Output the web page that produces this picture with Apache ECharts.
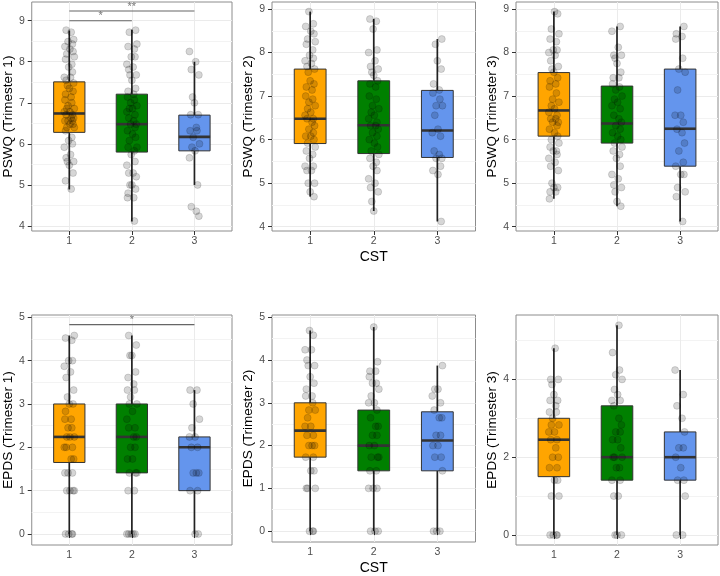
<!DOCTYPE html>
<html><head><meta charset="utf-8">
<script src="https://cdn.jsdelivr.net/npm/echarts@6/dist/echarts.min.js"></script>
<style>html,body{margin:0;padding:0;background:#fff}#c{width:720px;height:576px}</style>
</head><body><div id="c"></div>
<script>
// ---------------- DATA ----------------
const categories = ['1', '2', '3'];
const xTitle = 'CST';
const yTitles = ['PSWQ (Trimester 1)', 'PSWQ (Trimester 2)', 'PSWQ (Trimester 3)',
                 'EPDS (Trimester 1)', 'EPDS (Trimester 2)', 'EPDS (Trimester 3)'];
const yTicksPSWQ = [4, 5, 6, 7, 8, 9];
const yMinorPSWQ = [4.5, 5.5, 6.5, 7.5, 8.5];
const yTicksEPDS = [0, 1, 2, 3, 4, 5];
const yMinorEPDS = [0.5, 1.5, 2.5, 3.5, 4.5];
const yTicksEPDS3 = [0, 2, 4];
const yMinorEPDS3 = [1, 3, 5];

// box stats per group: [lower whisker, Q1, median, Q3, upper whisker]
const boxPSWQ1 = [[4.89, 6.28, 6.74, 7.51, 8.76], [4.11, 5.80, 6.48, 7.21, 8.78], [5.00, 5.83, 6.17, 6.70, 8.00]];
const boxPSWQ2 = [[4.69, 5.91, 6.48, 7.62, 8.94], [4.36, 5.68, 6.33, 7.35, 8.77], [4.12, 5.59, 6.21, 7.13, 8.31]];
const boxPSWQ3 = [[4.64, 6.08, 6.67, 7.54, 8.94], [4.47, 5.92, 6.37, 7.23, 8.60], [4.12, 5.39, 6.25, 7.62, 8.60]];
const boxEPDS1 = [[0, 1.65, 2.24, 3.00, 4.58], [0, 1.41, 2.24, 3.00, 4.58], [0, 1.00, 2.00, 2.24, 3.32]];
const boxEPDS2 = [[0, 1.73, 2.35, 3.00, 4.69], [0, 1.41, 2.00, 2.83, 4.77], [0, 1.41, 2.12, 2.79, 3.87]];
const boxEPDS3 = [[0, 1.50, 2.45, 3.00, 4.80], [0, 1.41, 2.00, 3.32, 5.39], [0, 1.41, 2.00, 2.65, 4.24]];

// individual observations per group
const ptsPSWQ1_1 = [8.77,8.72,8.54,8.49,8.43,8.37,8.31,8.25,8.19,8.12,8.06,7.94,7.87,7.75,7.62,7.62,7.55,7.48,7.42,7.35,7.28,7.21,7.14,7.07,7.0,6.93,6.86,6.86,6.78,6.78,6.71,6.71,6.63,6.63,6.56,6.56,6.56,6.48,6.48,6.40,6.40,6.32,6.16,6.08,6.0,5.92,5.74,5.66,5.57,5.57,5.48,5.29,5.10,4.90];
const ptsPSWQ1_2 = [8.77,8.72,8.43,8.37,8.31,8.12,8.12,7.94,7.87,7.81,7.68,7.68,7.55,7.35,7.28,7.21,7.14,7.07,7.0,6.93,6.86,6.86,6.78,6.71,6.63,6.56,6.48,6.48,6.40,6.32,6.24,6.16,6.08,5.92,5.92,5.83,5.74,5.57,5.48,5.29,5.29,5.20,5.0,5.0,4.90,4.80,4.69,4.69,4.12];
const ptsPSWQ1_3 = [8.25,8.0,7.81,7.68,7.14,7.0,6.71,6.71,6.40,6.32,6.32,6.16,6.0,5.92,5.83,5.66,5.0,4.47,4.36,4.24];
const ptsPSWQ2_1 = [8.94,8.66,8.60,8.49,8.43,8.31,8.25,8.19,8.06,7.94,7.87,7.81,7.75,7.68,7.62,7.55,7.35,7.28,7.21,7.14,7.0,6.93,6.86,6.78,6.71,6.63,6.56,6.48,6.48,6.40,6.32,6.24,6.16,6.08,6.08,6.0,5.92,5.83,5.74,5.66,5.57,5.39,5.39,5.29,5.29,5.0,5.0,4.80,4.69];
const ptsPSWQ2_2 = [8.77,8.72,8.54,8.06,8.0,7.81,7.68,7.62,7.55,7.48,7.35,7.28,7.21,7.0,6.93,6.78,6.71,6.63,6.56,6.48,6.40,6.32,6.32,6.24,6.16,6.08,6.0,5.92,5.83,5.74,5.66,5.57,5.48,5.39,5.29,5.10,5.0,4.90,4.80,4.58,4.36];
const ptsPSWQ2_3 = [8.31,8.19,7.81,7.62,7.28,7.14,7.07,6.93,6.78,6.78,6.56,6.24,6.16,6.08,5.74,5.66,5.57,5.57,5.39,5.29,5.20,4.12];
const ptsPSWQ3_1 = [8.94,8.89,8.54,8.43,8.31,8.25,8.06,8.06,8.0,7.94,7.81,7.68,7.62,7.55,7.42,7.35,7.28,7.21,7.07,6.93,6.86,6.78,6.71,6.63,6.56,6.48,6.48,6.40,6.40,6.32,6.24,6.16,6.08,6.0,5.92,5.83,5.74,5.74,5.66,5.57,5.48,5.39,5.29,5.0,4.90,4.90,4.80,4.80,4.64];
const ptsPSWQ3_2 = [8.60,8.49,8.12,7.94,7.94,7.87,7.75,7.55,7.42,7.42,7.28,7.21,7.14,7.0,6.93,6.86,6.78,6.71,6.56,6.48,6.40,6.32,6.24,6.16,6.08,6.0,5.92,5.83,5.74,5.66,5.57,5.39,5.20,5.10,4.96,4.90,4.80,4.58,4.47];
const ptsPSWQ3_3 = [8.60,8.43,8.37,8.31,7.87,7.62,7.55,7.14,6.56,6.56,6.40,6.24,6.16,5.92,5.74,5.48,5.39,5.20,5.20,4.90,4.80,4.69,4.12];
const ptsEPDS1_1 = [4.58,4.52,4.47,4.0,4.0,3.87,3.74,3.61,3.32,3.16,3.0,3.0,2.83,2.65,2.65,2.45,2.45,2.24,2.24,2.24,2.0,2.0,2.0,1.73,1.73,1.41,1.41,1.41,1.0,1.0,1.0,1.0,0,0,0,0];
const ptsEPDS1_2 = [4.58,4.36,4.12,4.12,3.74,3.61,3.46,3.32,3.32,3.16,3.0,3.0,2.83,2.65,2.45,2.45,2.24,2.24,2.0,2.0,1.73,1.73,1.41,1.41,1.41,1.0,1.0,0,0,0,0,0];
const ptsEPDS1_3 = [3.32,3.32,3.0,2.65,2.45,2.24,2.24,2.0,2.0,1.41,1.41,1.41,1.0,1.0,0,0];
const ptsEPDS2_1 = [4.69,4.58,4.24,4.24,4.0,3.87,3.87,3.61,3.46,3.32,3.16,3.16,3.0,2.83,2.83,2.65,2.45,2.45,2.24,2.24,2.0,2.0,2.0,1.73,1.73,1.41,1.41,1.0,1.0,1.0,0,0,0];
const ptsEPDS2_2 = [4.77,3.96,3.74,3.74,3.61,3.46,3.46,3.32,3.16,3.0,3.0,2.83,2.65,2.45,2.45,2.24,2.24,2.0,2.0,1.73,1.73,1.73,1.41,1.41,1.0,1.0,1.0,0,0,0];
const ptsEPDS2_3 = [3.87,3.32,3.32,3.16,3.0,2.83,2.65,2.65,2.24,2.24,2.0,2.0,1.73,1.73,1.41,0,0,0];
const ptsEPDS3_1 = [4.80,4.0,4.0,3.87,3.61,3.46,3.46,3.32,3.16,3.16,3.0,2.83,2.83,2.65,2.65,2.45,2.45,2.24,2.0,2.0,1.73,1.73,1.41,1.41,1.0,1.0,0,0,0,0];
const ptsEPDS3_2 = [5.39,4.69,4.24,4.12,4.0,3.74,3.61,3.46,3.46,3.32,3.0,2.83,2.65,2.65,2.45,2.45,2.24,2.0,2.0,2.0,1.73,1.73,1.41,1.41,1.0,1.0,0,0,0];
const ptsEPDS3_3 = [4.24,3.61,3.32,3.0,2.65,2.24,2.24,2.0,1.73,1.41,1.41,1.0,0,0];

// horizontal jitter offsets (category units), reused cyclically
const jitterOffsets = [-0.05,0.03,0.07,-0.02,0.05,-0.07,0.01,0.06,-0.04,0.08,-0.06,0.04,-0.01,0.05,-0.08,0.02,-0.05,0.07,-0.03,0.0,0.06,-0.06,0.03,-0.07,0.04,-0.02,0.08,-0.04,0.01,-0.08,0.05];

// significance brackets: [from category, to category, y, label]
const sigPSWQ1 = [[1, 3, 9.235, '**'], [1, 2, 9.0, '*']];
const sigEPDS1 = [[1, 3, 4.83, '*']];

// ---------------- LAYOUT / STYLE ----------------
const fills = ['#FFA500', '#008000', '#6495ED'];
const panels = [
  {grid:{left:29, top:2, width:203, height:229}, yMin:3.878, yMax:9.455, ticks:yTicksPSWQ, minor:yMinorPSWQ, box:boxPSWQ1, pts:[ptsPSWQ1_1,ptsPSWQ1_2,ptsPSWQ1_3], sig:sigPSWQ1, xName:false},
  {grid:{left:272, top:2, width:203.5, height:229}, yMin:3.901, yMax:9.161, ticks:yTicksPSWQ, minor:yMinorPSWQ, box:boxPSWQ2, pts:[ptsPSWQ2_1,ptsPSWQ2_2,ptsPSWQ2_3], sig:[], xName:true},
  {grid:{left:516, top:2, width:202, height:229}, yMin:3.901, yMax:9.161, ticks:yTicksPSWQ, minor:yMinorPSWQ, box:boxPSWQ3, pts:[ptsPSWQ3_1,ptsPSWQ3_2,ptsPSWQ3_3], sig:[], xName:false},
  {grid:{left:29, top:315, width:203, height:230}, yMin:-0.254, yMax:5.053, ticks:yTicksEPDS, minor:yMinorEPDS, box:boxEPDS1, pts:[ptsEPDS1_1,ptsEPDS1_2,ptsEPDS1_3], sig:sigEPDS1, xName:false},
  {grid:{left:272, top:315, width:203.5, height:230}, yMin:-0.254, yMax:5.053, ticks:yTicksEPDS, minor:yMinorEPDS, box:boxEPDS2, pts:[ptsEPDS2_1,ptsEPDS2_2,ptsEPDS2_3], sig:[], xName:true},
  {grid:{left:516, top:315, width:202, height:230}, yMin:-0.257, yMax:5.655, ticks:yTicksEPDS3, minor:yMinorEPDS3, box:boxEPDS3, pts:[ptsEPDS3_1,ptsEPDS3_2,ptsEPDS3_3], sig:[], xName:false}
];

const FONT = 'Liberation Sans, Arial, sans-serif';
const catPos = categories.map((c, i) => i + 1);

const grids = [], xAxes = [], yAxes = [], series = [];

function renderBox(params, api) {
  const x = api.value(0), lo = api.value(1), q1 = api.value(2), med = api.value(3), q3 = api.value(4), hi = api.value(5);
  const ci = api.value(6);
  const hw = 0.25;
  const tl = api.coord([x - hw, q3]);
  const br = api.coord([x + hw, q1]);
  const ml = api.coord([x - hw, med]);
  const mr = api.coord([x + hw, med]);
  const pHi = api.coord([x, hi]), pLo = api.coord([x, lo]);
  const pQ3 = api.coord([x, q3]), pQ1 = api.coord([x, q1]);
  return {type: 'group', children: [
    {type: 'line', shape: {x1: pHi[0], y1: pHi[1], x2: pQ3[0], y2: pQ3[1]}, style: {stroke: '#222222', lineWidth: 1.7}},
    {type: 'line', shape: {x1: pQ1[0], y1: pQ1[1], x2: pLo[0], y2: pLo[1]}, style: {stroke: '#222222', lineWidth: 1.7}},
    {type: 'rect', shape: {x: tl[0], y: tl[1], width: br[0] - tl[0], height: br[1] - tl[1]}, style: {fill: fills[ci], stroke: '#333333', lineWidth: 1}},
    {type: 'line', shape: {x1: ml[0], y1: ml[1], x2: mr[0], y2: mr[1]}, style: {stroke: '#333333', lineWidth: 2.6}}
  ]};
}

panels.forEach((p, i) => {
  grids.push(Object.assign({show: true, borderColor: '#8c8c8c', borderWidth: 1, backgroundColor: '#fff'}, p.grid));
  xAxes.push({
    type: 'value', gridIndex: i, min: 0.4, max: 3.6,
    axisLine: {show: false},
    axisTick: {show: true, customValues: catPos, length: 4, lineStyle: {color: '#333'}},
    axisLabel: {customValues: catPos, formatter: v => categories[Math.round(v) - 1], color: '#4d4d4d', fontSize: 10.5, margin: 5, fontFamily: FONT},
    splitLine: {show: true, lineStyle: {color: '#ebebeb', width: 1}},
    name: p.xName ? xTitle : '', nameLocation: 'middle', nameGap: 19,
    nameTextStyle: {fontSize: 14, color: '#000', fontFamily: FONT}
  });
  yAxes.push({
    type: 'value', gridIndex: i, min: p.yMin, max: p.yMax,
    axisLine: {show: false},
    axisTick: {show: true, customValues: p.ticks, length: 4, lineStyle: {color: '#333'}},
    axisLabel: {customValues: p.ticks, color: '#4d4d4d', fontSize: 10.5, margin: 7, fontFamily: FONT},
    splitLine: {show: true, lineStyle: {color: '#ebebeb', width: 1}},
    name: yTitles[i], nameLocation: 'middle', nameGap: 13,
    nameTextStyle: {fontSize: 13.5, color: '#000', fontFamily: FONT}
  });
  yAxes.push({
    type: 'value', gridIndex: i, min: p.yMin, max: p.yMax, position: 'left',
    axisLine: {show: false},
    axisTick: {show: false, customValues: p.minor},
    axisLabel: {show: false, customValues: p.minor},
    splitLine: {show: true, lineStyle: {color: '#f3f3f3', width: 1}}
  });
});

panels.forEach((p, i) => {
  const yMain = i * 2;
  series.push({
    type: 'custom', xAxisIndex: i, yAxisIndex: yMain, z: 2,
    renderItem: renderBox,
    encode: {x: 0, y: [1, 2, 3, 4, 5]},
    data: p.box.map((b, g) => [catPos[g], b[0], b[1], b[2], b[3], b[4], g])
  });
  const scatterData = [];
  p.pts.forEach((arr, g) => {
    arr.forEach((v, k) => {
      scatterData.push([catPos[g] + jitterOffsets[(k + g * 7 + i * 3) % jitterOffsets.length], v]);
    });
  });
  series.push({
    type: 'scatter', xAxisIndex: i, yAxisIndex: yMain, z: 3,
    symbolSize: 7,
    itemStyle: {color: 'rgba(0,0,0,0.2)', borderColor: 'rgba(0,0,0,0.25)', borderWidth: 0.7},
    silent: true,
    data: scatterData
  });
  p.sig.forEach(s => {
    series.push({
      type: 'line', xAxisIndex: i, yAxisIndex: yMain, z: 4, symbol: 'none', silent: true,
      lineStyle: {color: '#666', width: 1.1},
      data: [[s[0], s[2]], [s[1], s[2]]]
    });
    series.push({
      type: 'scatter', xAxisIndex: i, yAxisIndex: yMain, z: 4, symbolSize: 0, silent: true,
      label: {show: true, position: 'top', distance: -1, formatter: s[3], fontSize: 11, color: '#555', fontFamily: FONT},
      data: [[(s[0] + s[1]) / 2, s[2]]]
    });
  });
});

const chart = echarts.init(document.getElementById('c'), null, {renderer: 'canvas'});
chart.setOption({
  backgroundColor: '#fff',
  animation: false,
  grid: grids,
  xAxis: xAxes,
  yAxis: yAxes,
  series: series
});
</script>
</body></html>
